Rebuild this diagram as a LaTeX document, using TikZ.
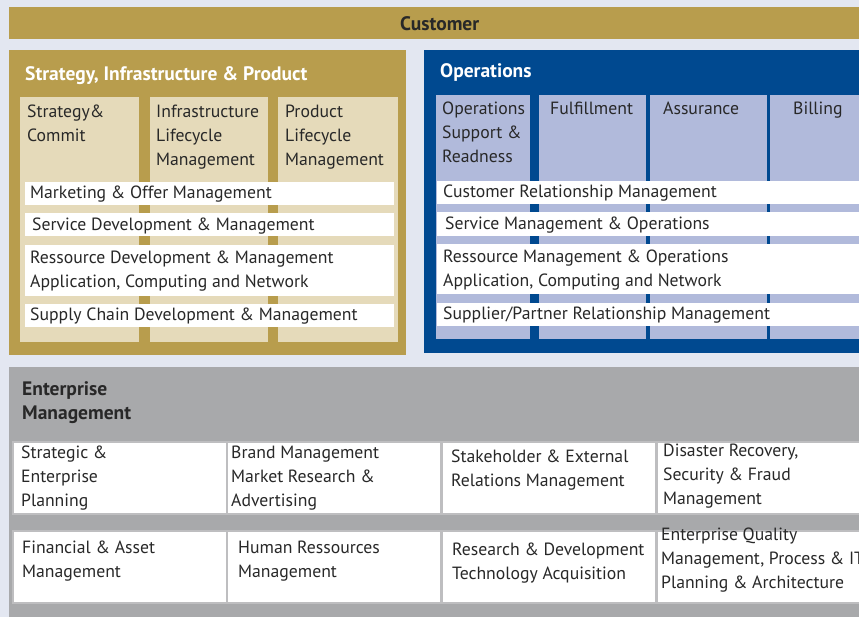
\documentclass[tikz,border=0pt]{standalone}
\usepackage{fontspec}
\setmainfont{PT Sans}
\definecolor{bgblue}{RGB}{227,231,241}
\definecolor{gold}{RGB}{184,157,77}
\definecolor{beige}{RGB}{229,218,186}
\definecolor{opsblue}{RGB}{0,73,144}
\definecolor{lavender}{RGB}{177,186,219}
\definecolor{entgray}{RGB}{168,169,171}
\definecolor{sepgray}{RGB}{190,190,192}
\definecolor{textdark}{RGB}{40,40,40}

\begin{document}
\begin{tikzpicture}[x=1pt,y=-1pt,
	box/.style={rectangle,inner sep=0pt,anchor=north west},
	cell/.style={box,fill=white,draw=sepgray,line width=1.5pt,minimum width=214pt,minimum height=72pt},
	txt/.style={anchor=north west,yshift=16.8pt,inner sep=0pt,align=left,text=textdark,
		font=\fontsize{17.7}{24}\selectfont,execute at begin node=\strut},
	ttl/.style={txt,font=\bfseries\fontsize{19.5}{24}\selectfont}]
	\path[use as bounding box] (0,0) rectangle (859,617);
	\clip (0,0) rectangle (859,617);
	\fill[bgblue] (0,0) rectangle (859,617);
	
	% customer
	\node[box,fill=gold,minimum width=850pt,minimum height=32pt] (cust) at (9,7) {};
	\node[ttl,text=textdark] (custlbl) at (400,30) {Customer};
	
	% strategy, infrastructure & product
	\node[box,fill=gold,minimum width=397pt,minimum height=305pt] (sip) at (9,50) {};
	\node[ttl,text=white] (sipttl) at (25,80) {Strategy, Infrastructure \& Product};
	\node[box,fill=beige,minimum width=119pt,minimum height=245pt] (sc1) at (20,97) {};
	\node[box,fill=beige,minimum width=118pt,minimum height=245pt] (sc2) at (150,97) {};
	\node[box,fill=beige,minimum width=120pt,minimum height=245pt] (sc3) at (278,97) {};
	\node[txt] (sc1t) at (27,117) {\strut Strategy\&\\Commit};
	\node[txt] (sc2t) at (156,117) {\strut Infrastructure\\Lifecycle\\Management};
	\node[txt] (sc3t) at (285,117) {\strut Product\\Lifecycle\\Management};
	\node[box,fill=white,minimum width=369pt,minimum height=23pt] (sr1) at (25,182) {};
	\node[box,fill=white,minimum width=369pt,minimum height=23pt] (sr2) at (25,213) {};
	\node[box,fill=white,minimum width=369pt,minimum height=51pt] (sr3) at (25,245) {};
	\node[box,fill=white,minimum width=369pt,minimum height=23pt] (sr4) at (25,304) {};
	\node[txt] (sr1t) at (30,198) {Marketing \& Offer Management};
	\node[txt] (sr2t) at (32,230) {Service Development \& Management};
	\node[txt] (sr3t) at (30,263) {\strut Ressource Development \& Management\\Application, Computing and Network};
	\node[txt] (sr4t) at (30,320) {Supply Chain Development \& Management};
	
	% operations
	\node[box,fill=opsblue,minimum width=435pt,minimum height=303pt] (ops) at (424,50) {};
	\node[ttl,text=white] (opsttl) at (440,77) {Operations};
	\node[box,fill=lavender,minimum width=94pt,minimum height=244pt] (oc1) at (436,95) {};
	\node[box,fill=lavender,minimum width=107pt,minimum height=244pt] (oc2) at (539,95) {};
	\node[box,fill=lavender,minimum width=117pt,minimum height=244pt] (oc3) at (650,95) {};
	\node[box,fill=lavender,minimum width=89pt,minimum height=244pt] (oc4) at (770,95) {};
	\node[txt] (oc1t) at (442,114) {\strut Operations\\Support \&\\Readness};
	\node[txt] (oc2t) at (550,114) {Fulfillment};
	\node[txt] (oc3t) at (663,114) {Assurance};
	\node[txt] (oc4t) at (793,114) {Billing};
	\node[box,fill=white,minimum width=422pt,minimum height=23pt] (or1) at (437,181) {};
	\node[box,fill=white,minimum width=422pt,minimum height=24pt] (or2) at (437,212) {};
	\node[box,fill=white,minimum width=422pt,minimum height=50pt] (or3) at (437,244) {};
	\node[box,fill=white,minimum width=422pt,minimum height=23pt] (or4) at (437,303) {};
	\node[txt] (or1t) at (443,197) {Customer Relationship Management};
	\node[txt] (or2t) at (445,229) {Service Management \& Operations};
	\node[txt] (or3t) at (443,262) {\strut Ressource Management \& Operations\\Application, Computing and Network};
	\node[txt] (or4t) at (443,319) {Supplier/Partner Relationship Management};
	
	% enterprise management
	\node[box,fill=entgray,minimum width=850pt,minimum height=250pt] (ent) at (9,367) {};
	\node[ttl,text=textdark] (entttl) at (22,395) {\strut Enterprise\\Management};
	\node[cell] (e11) at (12,441) {};
	\node[cell] (e12) at (226,441) {};
	\node[cell] (e13) at (441,441) {};
	\node[cell] (e14) at (656,441) {};
	\node[cell] (e21) at (12,530) {};
	\node[cell] (e22) at (226,530) {};
	\node[cell] (e23) at (441,530) {};
	\node[cell] (e24) at (656,530) {};
	\node[txt] (e11t) at (21,458) {\strut Strategic \&\\Enterprise\\Planning};
	\node[txt] (e12t) at (231,458) {\strut Brand Management\\Market Research \&\\Advertising};
	\node[txt] (e13t) at (451,462) {\strut Stakeholder \& External\\Relations Management};
	\node[txt] (e14t) at (663,456) {\strut Disaster Recovery,\\Security \& Fraud\\Management};
	\node[txt] (e21t) at (22,553) {\strut Financial \& Asset\\Management};
	\node[txt] (e22t) at (238,553) {\strut Human Ressources\\Management};
	\node[txt] (e23t) at (452,555) {\strut Research \& Development\\Technology Acquisition};
	\node[txt] (e24t) at (661,540) {\strut Enterprise Quality\\Management, Process \& IT\\Planning \& Architecture};
\end{tikzpicture}
\end{document}
